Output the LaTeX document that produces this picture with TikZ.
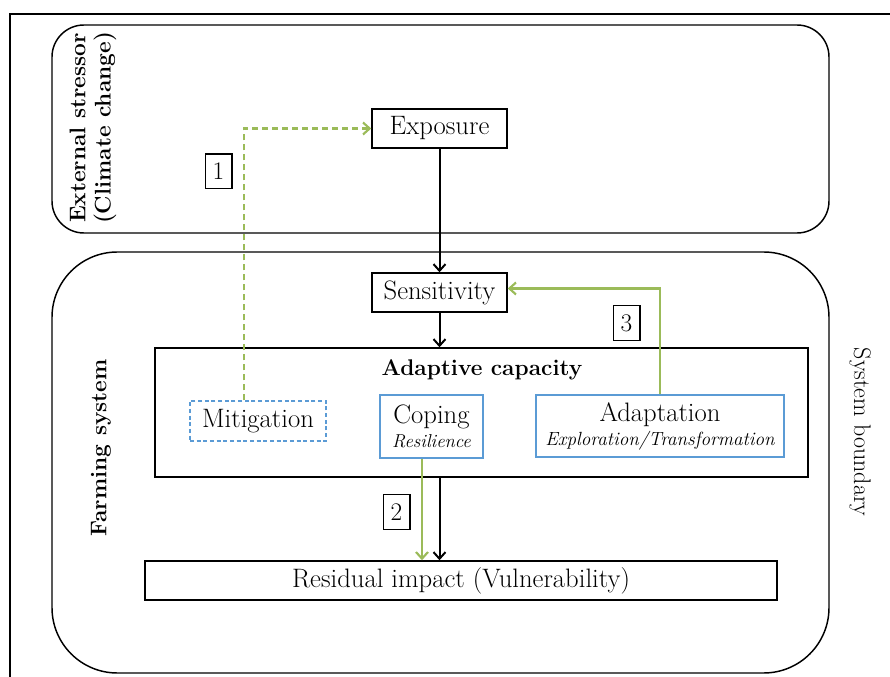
\documentclass[tikz,border=0pt]{standalone}
\usetikzlibrary{arrows.meta,calc}
\definecolor{ogreen}{RGB}{155,187,89}
\definecolor{oblue}{RGB}{91,155,213}
\newcommand{\fs}[1]{\fontsize{#1}{#1}\selectfont}
\begin{document}
\begin{tikzpicture}[x=0.75pt,y=-0.75pt,
  frame/.style={draw=black,line width=1.1pt},
  box/.style={draw=black,line width=1.1pt,inner sep=0pt,align=center,font=\fs{20}},
  bluebox/.style={draw=oblue,line width=1.1pt,inner sep=0pt,align=center,font=\fs{20}},
  numbox/.style={draw=black,line width=1pt,inner sep=0pt,minimum width=20pt,minimum height=26pt,font=\fs{19}},
  blackarrow/.style={draw=black,line width=1.5pt,-{Straight Barb[length=5pt,width=9pt]}},
  greenarrow/.style={draw=ogreen,line width=1.6pt,-{Straight Barb[length=5pt,width=9pt]}},
  greendash/.style={greenarrow,dash pattern=on 4.5pt off 3pt}]
\useasboundingbox (0,0) rectangle (890,677);
\fill[white] (0,0) rectangle (890,677);
% outer frame
\draw[frame] (10,677) -- (10,14) -- (890,14);
% system areas
\draw[frame,rounded corners=24pt] (52,25) rectangle (829,233);
\draw[frame,rounded corners=49pt] (52,252) rectangle (829,673);
\node[rotate=90,align=center,font=\bfseries\fs{17},inner sep=0pt] (ext) at (93,128) {External stressor\\[2pt](Climate change)};
\node[rotate=90,font=\bfseries\fs{17},inner sep=0pt] (farm) at (101,448) {Farming system};
\node[rotate=-90,font=\fs{18},inner sep=0pt] (sysb) at (860,432) {System boundary};
% main boxes
\node[box,minimum width=135*0.75pt,minimum height=39*0.75pt] (expo) at (439.5,128.5) {Exposure};
\node[box,minimum width=135*0.75pt,minimum height=39*0.75pt] (sens) at (439.5,292.5) {Sensitivity};
\node[box,minimum width=653*0.75pt,minimum height=129*0.75pt] (adcap) at (481.5,412.5) {};
\node[font=\bfseries\fs{17},inner sep=0pt] (adlabel) at (482,370) {Adaptive capacity};
\node[bluebox,dash pattern=on 3pt off 2pt,minimum width=136*0.75pt,minimum height=40*0.75pt] (mit) at (258,421) {Mitigation};
\node[bluebox,minimum width=103*0.75pt,minimum height=63*0.75pt] (cop) at (431.5,426.5) {Coping\\[-2pt]{\itshape\fs{14}Resilience}};
\node[bluebox,minimum width=248*0.75pt,minimum height=62*0.75pt] (adapt) at (660,426) {Adaptation\\[-2pt]{\itshape\fs{14.3}Exploration/Transformation}};
\node[box,minimum width=632*0.75pt,minimum height=39*0.75pt] (resid) at (461,580.5) {Residual impact (Vulnerability)};
% number labels
\node[numbox] (n1) at (218.5,171.5) {1};
\node[numbox] (n2) at (396.5,512) {2};
\node[numbox] (n3) at (626.5,323) {3};
% connectors
\coordinate (c1) at (244,128.5);
\coordinate (c2) at (422,0);
\draw[greendash] (c1 |- mit.north) -- (c1) -- (expo.west);
\draw[blackarrow] (expo.south) -- (sens.north);
\draw[blackarrow] (sens.south) -- (sens.south |- adcap.north);
\draw[blackarrow] (sens.south |- adcap.south) -- (sens.south |- resid.north);
\draw[greenarrow] (c2 |- cop.south) -- (c2 |- resid.north);
\draw[greenarrow] (adapt.north) |- ([yshift=3pt]sens.east);
\end{tikzpicture}
\end{document}
